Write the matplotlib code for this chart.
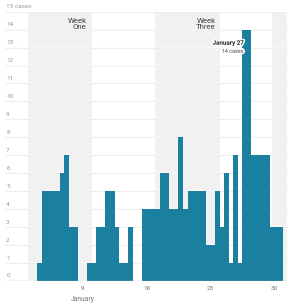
import matplotlib
matplotlib.use('Agg')
import matplotlib.pyplot as plt
import matplotlib.patheffects as pe
import matplotlib.transforms as mtransforms

plt.rcParams['font.family'] = ['Roboto', 'DejaVu Sans']

# Step edges (day of January) and case counts between them
edges = [4.0, 4.5, 6.5, 7.0, 7.5, 8.5, 9.5, 10.5, 11.5, 12.5, 13.0, 14.0, 14.5,
         15.5, 17.5, 18.5, 19.5, 20.0, 20.5, 22.5, 23.5, 24.0, 24.5, 25.0, 25.5,
         26.0, 26.5, 27.5, 29.5, 31.0]
cases = [1, 5, 6, 7, 3, 0, 1, 3, 5, 3, 1, 3, 0,
         4, 6, 4, 8, 4, 5, 2, 5, 3, 6, 1, 7,
         1, 14, 7, 3]

week_spans = [(3.0, 10.0), (16.9, 24.1), (29.8, 31.4)]
week_labels = ["Week\nOne", "Week\nThree"]
y_ticks = list(range(0, 16))
x_ticks = [9, 16, 23, 30]
x_tick_labels = ["9", "16", "23", "30"]
month_label = "January"
peak_title = "January 27"
peak_sub = "14 cases"

BAR = '#1b7f9f'
GRID = '#e9e9e9'
SHADE = '#f1f1f1'
LABEL = '#9a9a9a'

fig = plt.figure(figsize=(2.93, 3.07), dpi=100)
ax = fig.add_axes([5/293, 26.3/307, 283/293, 269/307])
ax.set_xlim(0.5, 31.5)
ax.set_ylim(0, 15)
ax.set_axis_off()

for a, b in week_spans:
    ax.axvspan(a, b, color=SHADE, zorder=0.5, lw=0)

for v in y_ticks:
    ax.axhline(v, color='#fafafa', lw=1.1, zorder=1)
    ax.axhline(v, color=GRID, lw=0.45, zorder=1.1)

ax.stairs(cases, edges, fill=True, color=BAR, zorder=2, lw=0)
ax.axhline(0, color='#c4c4c4', lw=0.9, zorder=3)

# y labels
tr = mtransforms.blended_transform_factory(ax.transAxes, ax.transData)
for v in y_ticks:
    txt = f"{v} cases" if v == y_ticks[-1] else str(v)
    ax.annotate(txt, xy=(0.004, v), xycoords=tr, xytext=(0, 1.6),
                textcoords='offset points', ha='left', va='bottom',
                fontsize=4.6, color=LABEL, zorder=4)

# x labels
trx = mtransforms.blended_transform_factory(ax.transData, ax.transAxes)
for xv, lab in zip(x_ticks, x_tick_labels):
    ax.annotate(lab, xy=(xv, 0), xycoords=trx, xytext=(0, -4),
                textcoords='offset points', ha='center', va='top',
                fontsize=4.6, color='#777777')
ax.annotate(month_label, xy=(x_ticks[0], 0), xycoords=trx, xytext=(0, -11),
            textcoords='offset points', ha='center', va='top',
            fontsize=4.8, color='#777777')

# week labels
for (a, b), lab in zip(week_spans[:2], week_labels):
    ax.text(b - 0.55, 14.32, lab, ha='right', va='center', fontsize=5.6,
            color='#444444', linespacing=1.15, zorder=4)

# peak annotation
peak_i = cases.index(max(cases))
px = edges[peak_i] + 0.2
halo = [pe.withStroke(linewidth=2.2, foreground='white')]
ax.text(px, 13.24, peak_title, ha='right', va='center', fontsize=4.5,
        fontweight='bold', color='#222222', path_effects=halo, zorder=5)
ax.text(px - 0.1, 12.8, peak_sub, ha='right', va='center', fontsize=3.9,
        color='#444444', path_effects=halo, zorder=5)

fig.savefig('out.png', dpi=100)
